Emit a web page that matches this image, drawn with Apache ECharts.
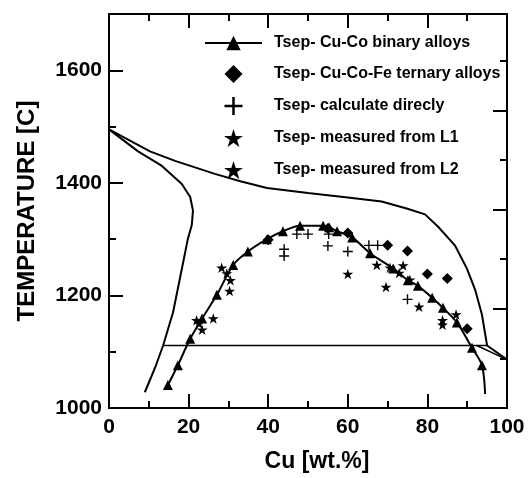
<!DOCTYPE html>
<html>
<head>
<meta charset="utf-8">
<script src="https://cdn.jsdelivr.net/npm/echarts@6/dist/echarts.min.js"></script>
<style>
html, body { margin: 0; padding: 0; background: #fff; }
#chart { width: 528px; height: 478px; }
</style>
</head>
<body>
<div id="chart"></div>
<script>
// Tsep points, [Cu wt.%, temperature C]
var binaryAlloys = [[14.8,1041],[17.3,1076],[20.4,1123],[23.4,1159],[27.1,1201],[31.2,1254],[34.9,1278],[39.7,1300],[43.7,1314],[48.0,1324],[53.8,1324],[55.3,1321],[57.3,1314],[61.1,1303],[65.6,1275],[71.4,1248],[75.1,1227],[77.6,1217],[81.2,1196],[83.9,1178],[87.4,1152],[91.2,1107],[93.7,1076]];
var binaryFitEnd = [94.5, 1025];
var ternaryAlloys = [[40,1299],[55,1319],[60,1311],[70,1289],[75,1279],[80,1238],[85,1230],[90,1141]];
var calculatedDirectly = [[44,1282],[44,1270],[47.2,1309],[50,1309],[55.2,1309],[55,1288],[60,1278],[65.3,1289],[67.5,1289],[75,1193]];
var measuredL1 = [[22.0,1156],[22.6,1150],[23.4,1139],[26.2,1159],[28.3,1249],[29.6,1239],[30.5,1227],[30.3,1208]];
var measuredL2 = [[60,1238],[67.3,1254],[69.6,1215],[70.6,1249],[72.9,1240],[73.9,1253],[75.6,1228],[77.9,1180],[83.8,1156],[83.8,1148],[87.2,1166]];

// phase diagram lines
var outerBoundary = [[0,1495],[10.3,1456],[16.6,1439],[26.6,1416],[33,1403],[39.7,1391],[50,1382],[60,1374],[68.5,1367],[75,1354],[79.4,1344],[82.7,1322],[86.9,1289],[89.9,1248],[92,1210],[93.7,1166],[95,1111],[100,1086]];
var innerBoundary = [[0,1495],[7.3,1456],[13.3,1430],[18.3,1398],[20.4,1375],[21.1,1351],[20.8,1325],[19.8,1300],[18.5,1254],[16.1,1170],[13.6,1111],[11.6,1072],[9,1028]];
var horizontalLine = [[13.6,1111],[95,1111]];
var wedgeLine = [[92.4,1111],[100,1086]];

var names = ['Tsep- Cu-Co binary alloys', 'Tsep- Cu-Co-Fe ternary alloys', 'Tsep- calculate direcly', 'Tsep- measured from L1', 'Tsep- measured from L2'];

var xTicks = { min: 0, max: 100, interval: 20 };
var yTicks = { min: 1000, max: 1700, interval: 200 };
var rightTicks = { min: 0, max: 397, interval: 100 };

var FONT = "'Liberation Sans', Arial, sans-serif";
var starPath = 'path://M50,0L61.23,34.55L97.55,34.55L68.16,55.9L79.39,90.45L50,69.1L20.61,90.45L31.84,55.9L2.45,34.55L38.77,34.55Z';
var plusPath = 'path://M43,0H57V43H100V57H57V100H43V57H0V43H43Z';
var diamondPath = 'path://M50,0L100,50L50,100L0,50Z';

var chart = echarts.init(document.getElementById('chart'));

var lineStyleAxis = { color: '#000', width: 2 };
function frameAxis(extra) {
    var a = {
        type: 'value',
        axisLine: { show: true, onZero: false, lineStyle: lineStyleAxis },
        axisTick: { show: true, inside: true, length: 14, lineStyle: lineStyleAxis },
        minorTick: { show: true, splitNumber: 2, length: 7, lineStyle: lineStyleAxis },
        splitLine: { show: false },
        minorSplitLine: { show: false },
        axisLabel: { show: false }
    };
    for (var k in extra) a[k] = extra[k];
    return a;
}

var tickLabel = { fontFamily: FONT, fontWeight: 'bold', fontSize: 21, color: '#000', formatter: function (v) { return String(v); } };

var bfData = binaryAlloys.slice();
bfData.push({ value: binaryFitEnd, symbol: 'none' });

function plainLine(data, w) {
    return {
        type: 'line', data: data, showSymbol: false, symbol: 'none', silent: true,
        lineStyle: { color: '#000', width: w }, z: 1
    };
}

function dots(name, data, symbol, size) {
    return {
        name: name, type: 'scatter', data: data, symbol: symbol, symbolSize: size,
        symbolKeepAspect: true,
        itemStyle: { color: '#000', opacity: 1 }, z: 4
    };
}

var option = {
    animation: false,
    grid: { left: 109, right: 21, top: 14, bottom: 67 },
    legend: {
        orient: 'vertical', left: 199, top: 30,
        itemWidth: 57, itemHeight: 18, itemGap: 14,
        selectedMode: false,
        data: names,
        itemStyle: { opacity: 1 },
        textStyle: { fontFamily: FONT, fontWeight: 'bold', fontSize: 16, color: '#000', padding: [0, 0, 0, 7] }
    },
    xAxis: [
        frameAxis({
            min: xTicks.min, max: xTicks.max, interval: xTicks.interval, position: 'bottom',
            axisLabel: Object.assign({ show: true, margin: 9 }, tickLabel),
            name: 'Cu [wt.%]', nameLocation: 'middle', nameGap: 42,
            nameTextStyle: { fontFamily: FONT, fontWeight: 'bold', fontSize: 23, color: '#000', padding: [0, 0, 0, 18] }
        }),
        frameAxis({ min: xTicks.min, max: xTicks.max, interval: xTicks.interval, position: 'top' })
    ],
    yAxis: [
        frameAxis({
            min: yTicks.min, max: yTicks.max, interval: yTicks.interval, position: 'left',
            minorTick: { show: false },
            axisLabel: Object.assign({ show: true, margin: 7, showMaxLabel: false }, tickLabel),
            name: 'TEMPERATURE [C]', nameLocation: 'middle', nameGap: 70,
            nameTextStyle: { fontFamily: FONT, fontWeight: 'bold', fontSize: 24, color: '#000' }
        }),
        frameAxis({
            min: yTicks.min, max: yTicks.max, interval: yTicks.interval / 2, position: 'left',
            axisLine: { show: false }, minorTick: { show: false },
            axisTick: { show: true, inside: true, length: 7, lineStyle: lineStyleAxis }
        }),
        frameAxis({ min: rightTicks.min, max: rightTicks.max, interval: rightTicks.interval, position: 'right' })
    ],
    series: [
        plainLine(outerBoundary, 2),
        plainLine(innerBoundary, 2),
        plainLine(horizontalLine, 1.5),
        plainLine(wedgeLine, 1.5),
        {
            name: names[0], type: 'line', data: bfData, smooth: 0.3,
            symbol: 'triangle', symbolSize: 10, showAllSymbol: true,
            lineStyle: { color: '#000', width: 2 }, itemStyle: { color: '#000', opacity: 1 }, z: 3
        },
        dots(names[1], ternaryAlloys, diamondPath, 11),
        dots(names[2], calculatedDirectly, plusPath, 10),
        dots(names[3], measuredL1, starPath, 11),
        dots(names[4], measuredL2, starPath, 11)
    ]
};

chart.setOption(option);
</script>
</body>
</html>
